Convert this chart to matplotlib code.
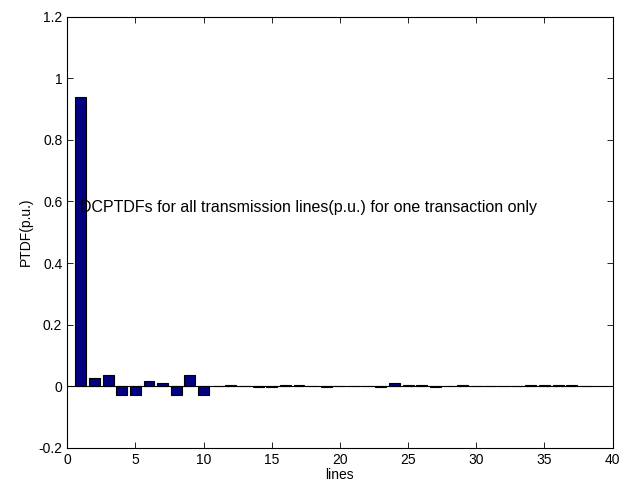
import numpy as np
import matplotlib
matplotlib.use("Agg")
import matplotlib.pyplot as plt

plt.rcParams['font.family'] = ['Liberation Sans', 'DejaVu Sans']

# PTDF per line (p.u.)
lines = list(range(1, 39))
ptdf = [0.94, 0.026, 0.038, -0.028, -0.028, 0.017, 0.009, -0.028, 0.038, -0.028,
        0.0, 0.003, 0.001, -0.002, -0.002, 0.003, 0.003, 0.0, -0.003, 0.0,
        0.0, 0.0, -0.003, 0.009, 0.004, 0.004, -0.003, 0.0, 0.003, 0.0,
        0.0, 0.0, 0.0, 0.003, 0.003, 0.003, 0.003, 0.0]
note = "DCPTDFs for all transmission lines(p.u.) for one transaction only"

fig = plt.figure(figsize=(6.22, 4.91), dpi=100)
ax = fig.add_axes([0.108, 0.088, 0.877, 0.878])

ax.bar(lines, ptdf, width=0.8, color='#000080', edgecolor='black', linewidth=0.8, zorder=2)
ax.axhline(0, color='black', linewidth=0.8, zorder=1)

ax.text(0.95, 0.58, note, ha='left', va='center', fontsize=11.5)

ax.set_xlim(0, 40)
ax.set_ylim(-0.2, 1.2)
ax.set_xticks(np.arange(0, 41, 5))
ax.set_yticks(np.round(np.arange(-0.2, 1.21, 0.2), 1))
ax.set_yticklabels(['-0.2', '0', '0.2', '0.4', '0.6', '0.8', '1', '1.2'])
ax.tick_params(direction='in', top=True, right=True, labelsize=10, length=4, width=0.6)
for s in ax.spines.values():
    s.set_linewidth(0.8)

ax.set_xlabel('lines', fontsize=10, labelpad=1)
ax.set_ylabel('PTDF(p.u.)', fontsize=10, labelpad=4)

fig.savefig('out.png', dpi=100)
